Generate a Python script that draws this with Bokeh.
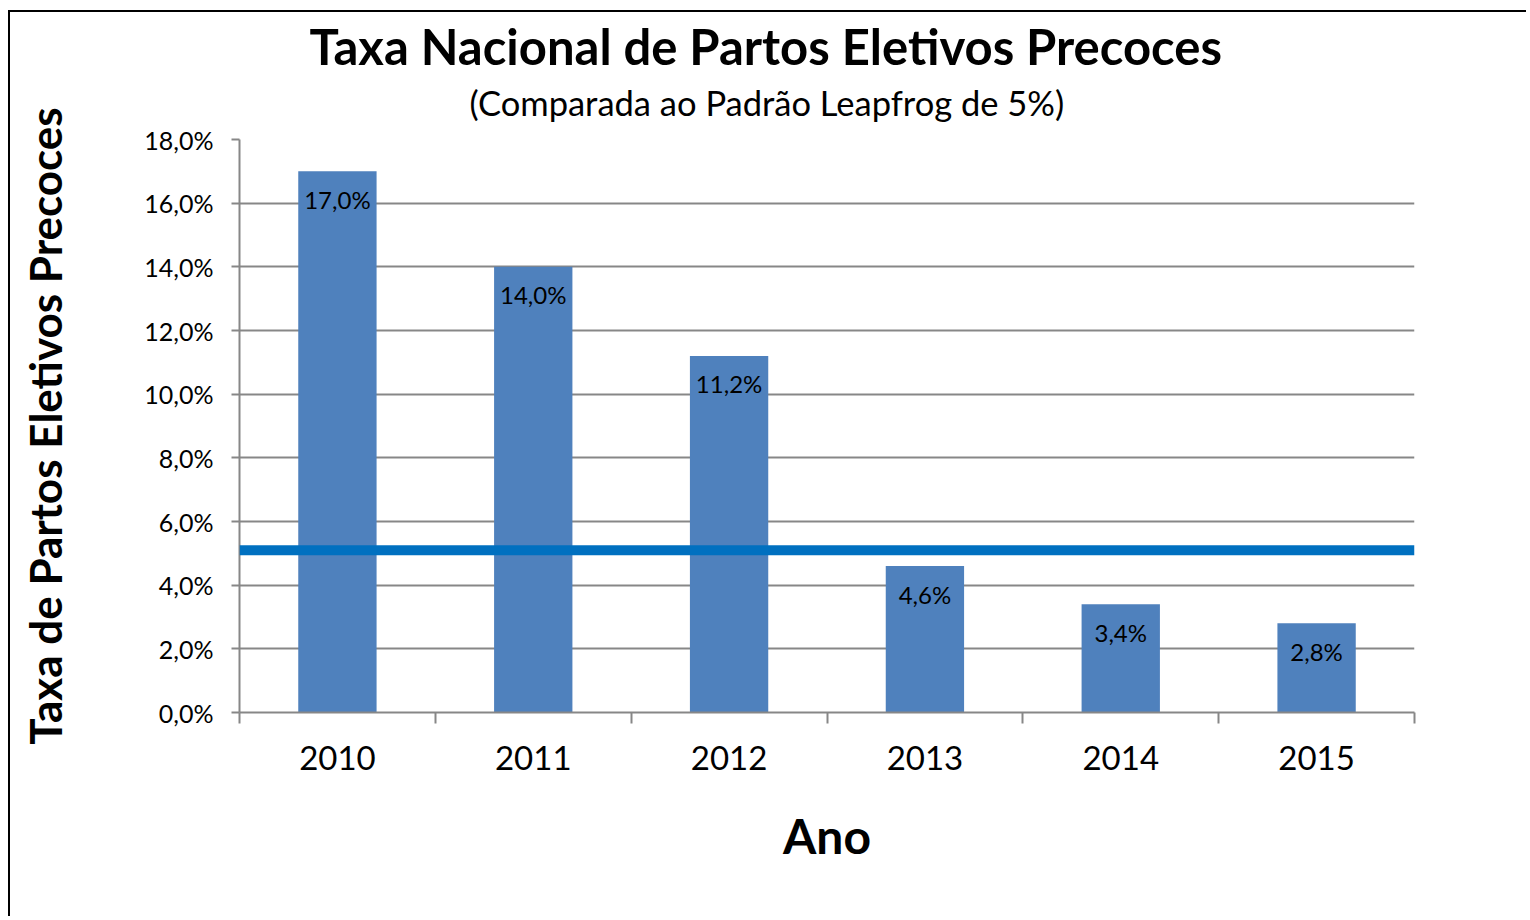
import numpy as np
from bokeh.plotting import figure
from bokeh.models import (ColumnDataSource, FixedTicker, CustomJSTickFormatter,
                          Range1d, Span, Title)
from bokeh.core.properties import value
from bokeh.embed import file_html
from bokeh.resources import INLINE

# ---- data ----
years = ["2010", "2011", "2012", "2013", "2014", "2015"]
rates = [17.0, 14.0, 11.2, 4.6, 3.4, 2.8]
rate_labels = ["17,0%", "14,0%", "11,2%", "4,6%", "3,4%", "2,8%"]
leapfrog_standard = 5.1
y_ticks = [0, 2, 4, 6, 8, 10, 12, 14, 16, 18]
y_tick_labels = ["0,0%", "2,0%", "4,0%", "6,0%", "8,0%", "10,0%",
                 "12,0%", "14,0%", "16,0%", "18,0%"]
title_text = "Taxa Nacional de Partos Eletivos Precoces"
subtitle_text = "(Comparada ao Padrão Leapfrog de 5%)"
x_label = "Ano"
y_label = "Taxa de Partos Eletivos Precoces"

FONT = "Lato"
GREY = "#878787"

x_pos = np.arange(len(years)) + 0.5
src = ColumnDataSource(dict(x=x_pos, rate=rates, label=rate_labels))

p = figure(width=1518, height=906, output_backend="svg", toolbar_location=None,
           x_range=Range1d(0, len(years)), y_range=Range1d(y_ticks[0], y_ticks[-1]),
           min_border_left=229, min_border_right=114,
           min_border_top=127, min_border_bottom=206)
p.styles = {"border-top": "2px solid black", "border-left": "2px solid black",
            "margin-left": "8px", "margin-top": "10px"}
p.outline_line_color = None
p.background_fill_color = "white"
p.border_fill_color = "white"

# bars
p.vbar(x="x", top="rate", width=0.4, source=src,
       fill_color="#4F81BD", line_color=None)

# bar value labels
p.text(x="x", y="rate", text="label", source=src, y_offset=28,
       text_align="center", text_baseline="middle",
       text_font=value(FONT), text_font_size="24px", text_color="black")

# Leapfrog standard line
p.add_layout(Span(location=leapfrog_standard, dimension="width",
                  line_color="#0070C0", line_width=10))

# x axis
xa = p.xaxis[0]
xa.ticker = FixedTicker(ticks=list(x_pos), minor_ticks=list(range(len(years) + 1)))
xa.formatter = CustomJSTickFormatter(args=dict(labels=years),
                                     code="return labels[Math.floor(tick)];")
xa.major_tick_out = 0
xa.major_tick_in = 0
xa.minor_tick_out = 11
xa.minor_tick_in = 0
xa.minor_tick_line_color = GREY
xa.minor_tick_line_width = 2
xa.axis_line_color = GREY
xa.axis_line_width = 2
xa.major_label_text_font = FONT
xa.major_label_text_font_size = "33px"
xa.major_label_text_color = "black"
xa.major_label_standoff = 22
xa.axis_label = x_label
xa.axis_label_text_font = FONT
xa.axis_label_text_font_style = "bold"
xa.axis_label_text_font_size = "48px"
xa.axis_label_text_color = "black"
xa.axis_label_standoff = 34

# y axis
ya = p.yaxis[0]
ya.ticker = FixedTicker(ticks=y_ticks)
ya.major_label_overrides = dict(zip(y_ticks, y_tick_labels))
ya.major_tick_out = 8
ya.major_tick_in = 0
ya.minor_tick_out = 0
ya.minor_tick_in = 0
ya.major_tick_line_color = GREY
ya.major_tick_line_width = 2
ya.axis_line_color = GREY
ya.axis_line_width = 2
ya.major_label_text_font = FONT
ya.major_label_text_font_size = "25px"
ya.major_label_text_color = "black"
ya.major_label_standoff = 18
ya.axis_label = y_label
ya.axis_label_text_font = FONT
ya.axis_label_text_font_style = "bold"
ya.axis_label_text_font_size = "44px"
ya.axis_label_text_color = "black"
ya.axis_label_standoff = 70

p.xgrid.visible = False
p.ygrid.grid_line_color = GREY
p.ygrid.grid_line_width = 2

# titles (first added sits nearest the plot)
p.add_layout(Title(text=subtitle_text, align="left", offset=230,
                   text_font=FONT, text_font_size="34.5px", text_font_style="normal",
                   text_color="black", standoff=34), "above")
p.add_layout(Title(text=title_text, align="left", offset=70,
                   text_font=FONT, text_font_size="49px", text_font_style="bold",
                   text_color="black", standoff=-24), "above")

open("out.html", "w").write(file_html(p, INLINE))
